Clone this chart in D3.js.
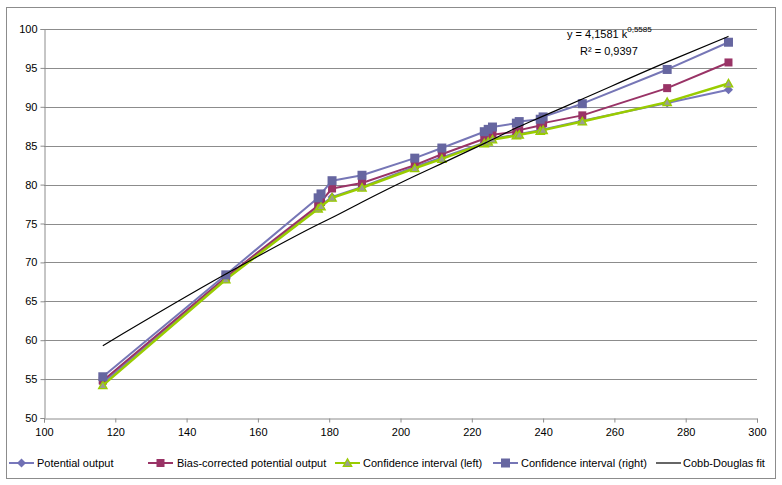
<!DOCTYPE html>
<html>
<head>
<meta charset="utf-8">
<script src="https://cdn.jsdelivr.net/npm/d3@7/dist/d3.min.js"></script>
<style>
  html, body { margin: 0; padding: 0; background: #fff; }
  svg { display: block; font-family: "Liberation Sans", Arial, sans-serif; }
</style>
</head>
<body>
<svg id="chart" width="782" height="485"></svg>
<script>
// ---- data ----
const capital = [116.5, 151.0, 176.9, 177.7, 180.8, 189.2, 204.0, 211.6, 223.5, 224.6, 225.8, 232.5, 233.3, 239.2, 240.0, 251.0, 274.8, 292.0];
const potentialOutput = [54.5, 67.9, 77.0, 77.4, 78.4, 79.7, 82.3, 83.5, 85.4, 85.6, 85.9, 86.4, 86.5, 87.0, 87.1, 88.2, 90.5, 92.2];
const biasCorrected = [54.8, 68.1, 77.3, 77.8, 79.5, 80.2, 82.5, 83.9, 85.9, 86.1, 86.4, 86.8, 87.0, 87.6, 87.9, 88.9, 92.4, 95.7];
const ciLeft = [54.2, 67.8, 76.9, 77.2, 78.3, 79.6, 82.1, 83.3, 85.3, 85.5, 85.8, 86.3, 86.4, 86.9, 87.0, 88.1, 90.6, 93.0];
const ciRight = [55.3, 68.4, 78.3, 78.8, 80.5, 81.2, 83.4, 84.7, 86.8, 87.1, 87.4, 87.9, 88.1, 88.4, 88.7, 90.4, 94.8, 98.3];
const fitCapital = [116.5, 151, 177, 181, 189, 204, 211.5, 224, 233, 240, 251, 275, 292];
const fitValues = [59.3, 68.5, 74.9, 75.8, 77.7, 81.1, 82.7, 85.4, 87.4, 88.8, 91.0, 95.8, 99.05];
const xTicks = [100, 120, 140, 160, 180, 200, 220, 240, 260, 280, 300];
const yTicks = [50, 55, 60, 65, 70, 75, 80, 85, 90, 95, 100];
const legendLabels = ["Potential output", "Bias-corrected potential output", "Confidence interval (left)", "Confidence interval (right)", "Cobb-Douglas fit"];
const equationText = "y = 4,1581 k";
const exponentText = "0,5585";
const r2Text = "R\u00B2 = 0,9397";

// ---- layout ----
const svg = d3.select("#chart");
const L = 44, R = 757, T = 29, B = 418;
const x = d3.scaleLinear().domain([100, 300]).range([L, R]);
const y = d3.scaleLinear().domain([50, 100]).range([B, T]);

// outer border
svg.append("rect").attr("x", 6.5).attr("y", 7.5).attr("width", 769).attr("height", 471)
  .attr("fill", "#fff").attr("stroke", "#8c8c8c").attr("stroke-width", 1);

// gridlines
svg.append("g").selectAll("line").data(yTicks.slice(1)).join("line")
  .attr("x1", L).attr("x2", R)
  .attr("y1", d => Math.round(y(d)) + 0.5).attr("y2", d => Math.round(y(d)) + 0.5)
  .attr("stroke", "#8c8c8c").attr("stroke-width", 1);

// axes
const yAxis = svg.append("g").attr("transform", `translate(${L + 0.5},0)`)
  .call(d3.axisLeft(y).tickValues(yTicks).tickSize(4).tickPadding(3).tickFormat(d3.format("d")));
const xAxis = svg.append("g").attr("transform", `translate(0,${B + 0.5})`)
  .call(d3.axisBottom(x).tickValues(xTicks).tickSize(4).tickPadding(6).tickFormat(d3.format("d")));
[yAxis, xAxis].forEach(g => {
  g.selectAll("path, line").attr("stroke", "#8c8c8c");
  g.selectAll("text").attr("fill", "#000").style("font-size", "11px")
    .style("font-family", "'Liberation Sans', Arial, sans-serif");
});

// series
const series = [
  { name: legendLabels[0], values: potentialOutput, color: "#7878bc", width: 2, marker: "diamond", mFill: "#7070b4", mStroke: "#7070b4" },
  { name: legendLabels[1], values: biasCorrected, color: "#993366", width: 2, marker: "square", mFill: "#993366", mStroke: "#993366", size: 8 },
  { name: legendLabels[2], values: ciLeft, color: "#99cc00", width: 2.5, marker: "triangle", mFill: "#9a9f90", mStroke: "#99cc00" },
  { name: legendLabels[3], values: ciRight, color: "#7676b6", width: 2, marker: "square", mFill: "#6666a0", mStroke: "#6666a0", size: 9 }
];

const line = d3.line().x(d => x(d[0])).y(d => y(d[1]));

function drawMarker(g, s, cx, cy) {
  if (s.marker === "square") {
    const sz = s.size;
    g.append("rect").attr("x", cx - sz / 2).attr("y", cy - sz / 2).attr("width", sz).attr("height", sz)
      .attr("fill", s.mFill).attr("stroke", "none");
  } else if (s.marker === "diamond") {
    const r = 4.5;
    g.append("path").attr("d", `M${cx},${cy - r}L${cx + r},${cy}L${cx},${cy + r}L${cx - r},${cy}Z`)
      .attr("fill", s.mFill);
  } else if (s.marker === "triangle") {
    const r = 4.2;
    g.append("path").attr("d", `M${cx},${cy - r}L${cx + r},${cy + r * 0.8}L${cx - r},${cy + r * 0.8}Z`)
      .attr("fill", s.mFill).attr("stroke", s.mStroke).attr("stroke-width", 1.3);
  }
}

series.forEach(s => {
  const pts = capital.map((c, i) => [c, s.values[i]]);
  const g = svg.append("g");
  g.append("path").datum(pts).attr("d", line).attr("fill", "none")
    .attr("stroke", s.color).attr("stroke-width", s.width).attr("stroke-linejoin", "round");
  pts.forEach(p => drawMarker(g, s, x(p[0]), y(p[1])));
});

// Cobb-Douglas fit
const fitPts = fitCapital.map((c, i) => [c, fitValues[i]]);
svg.append("path").datum(fitPts)
  .attr("d", d3.line().x(d => x(d[0])).y(d => y(d[1])).curve(d3.curveMonotoneX))
  .attr("fill", "none").attr("stroke", "#000").attr("stroke-width", 1.2);

// equation
const eq = svg.append("text").attr("x", 567).attr("y", 38).style("font-size", "11px").attr("fill", "#000");
eq.append("tspan").text(equationText);
eq.append("tspan").attr("dy", -6).style("font-size", "8px").text(exponentText);
svg.append("text").attr("x", 580).attr("y", 55).style("font-size", "11px").attr("fill", "#000").text(r2Text);

// legend
const legendY = 463;
const legendItems = [
  { s: series[0], x0: 9, tx: 37 },
  { s: series[1], x0: 148, tx: 177 },
  { s: series[2], x0: 335, tx: 363 },
  { s: series[3], x0: 493, tx: 521 },
  { s: null, x0: 656, tx: 683 }
];
const lg = svg.append("g");
legendItems.forEach((it, i) => {
  const color = it.s ? it.s.color : "#000";
  lg.append("line").attr("x1", it.x0).attr("x2", it.x0 + 25).attr("y1", legendY).attr("y2", legendY)
    .attr("stroke", color).attr("stroke-width", it.s ? 2 : 1.2);
  if (it.s) drawMarker(lg, it.s, it.x0 + 12.5, legendY);
  lg.append("text").attr("x", it.tx).attr("y", legendY).attr("dy", "0.35em")
    .style("font-size", "11px").attr("fill", "#000").text(legendLabels[i]);
});
</script>
</body>
</html>
